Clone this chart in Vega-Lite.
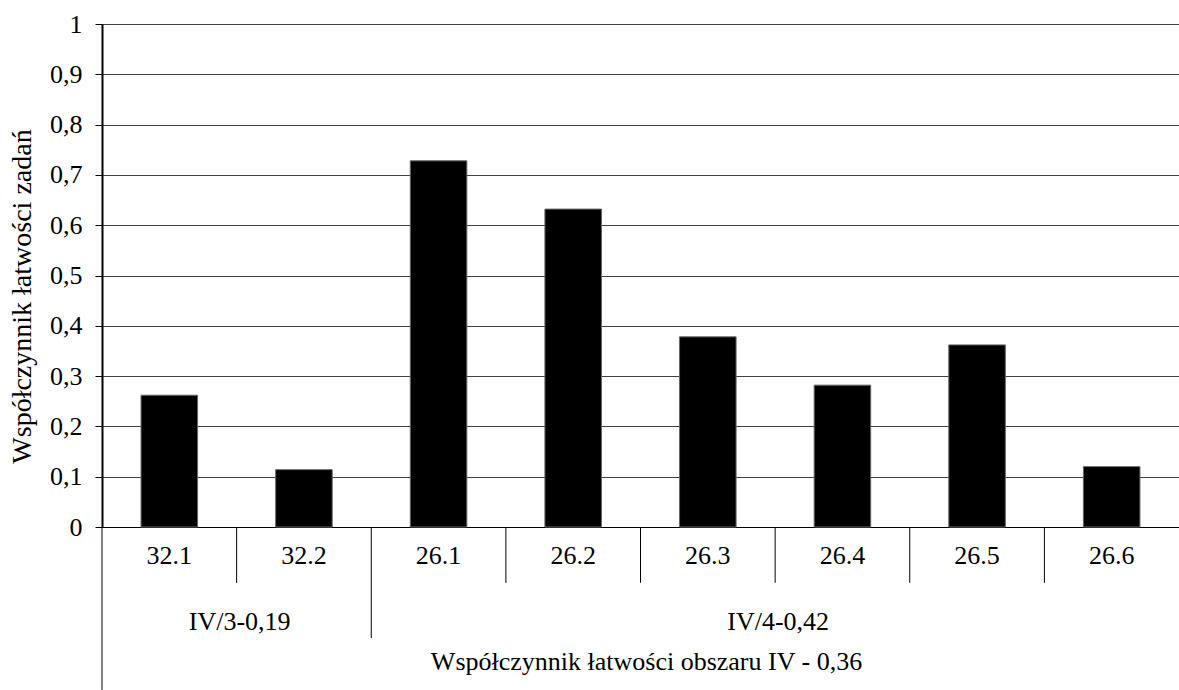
{
  "$schema": "https://vega.github.io/schema/vega-lite/v6.json",
  "width": 1077,
  "height": 503,
  "autosize": {"type": "none"},
  "padding": {"left": 102, "top": 24, "right": 0, "bottom": 163},
  "background": "white",
  "config": {"view": {"stroke": null}, "font": "Times New Roman, Liberation Serif, serif", "axis": {"labelFont": "Times New Roman, Liberation Serif, serif", "titleFont": "Times New Roman, Liberation Serif, serif"}, "text": {"font": "Times New Roman, Liberation Serif, serif"}},
  "datasets": {
    "bars": [
      {"cat": "32.1", "value": 0.262},
      {"cat": "32.2", "value": 0.114},
      {"cat": "26.1", "value": 0.728},
      {"cat": "26.2", "value": 0.632},
      {"cat": "26.3", "value": 0.378},
      {"cat": "26.4", "value": 0.282},
      {"cat": "26.5", "value": 0.362},
      {"cat": "26.6", "value": 0.12}
    ],
    "dividers": [
      {"cat": "32.1", "depth": -0.324},
      {"cat": "32.2", "depth": -0.111},
      {"cat": "26.1", "depth": -0.2207},
      {"cat": "26.2", "depth": -0.111},
      {"cat": "26.3", "depth": -0.111},
      {"cat": "26.4", "depth": -0.111},
      {"cat": "26.5", "depth": -0.111},
      {"cat": "26.6", "depth": -0.111}
    ],
    "groups": [
      {"cat": "32.2", "level": -0.189, "text": "IV/3-0,19"},
      {"cat": "26.4", "level": -0.189, "text": "IV/4-0,42"}
    ],
    "overall": [
      {"cat": "26.3", "level": -0.268, "text": "Współczynnik łatwości obszaru IV - 0,36"}
    ]
  },
  "layer": [
    {
      "data": {"name": "bars"},
      "mark": {"type": "bar", "width": {"band": 0.42}, "color": "black", "stroke": "#666666", "strokeWidth": 1},
      "encoding": {
        "x": {
          "field": "cat",
          "type": "nominal",
          "sort": null,
          "scale": {"domain": ["32.1", "32.2", "26.1", "26.2", "26.3", "26.4", "26.5", "26.6"], "paddingInner": 0, "paddingOuter": 0},
          "axis": {
            "title": null,
            "ticks": false,
            "tickSize": 0,
            "domain": true,
            "domainColor": "black",
            "domainWidth": 1,
            "labelAngle": 0,
            "labelFont": "Times New Roman, Liberation Serif, serif",
            "labelFontSize": 26,
            "labelColor": "black",
            "labelPadding": 28,
            "labelBaseline": "middle",
            "grid": false
          }
        },
        "y": {
          "field": "value",
          "type": "quantitative",
          "scale": {"domain": [0, 1]},
          "axis": {
            "values": [0, 0.1, 0.2, 0.3, 0.4, 0.5, 0.6, 0.7, 0.8, 0.9, 1],
            "labelExpr": "replace(format(datum.value, '.1~f'), '.', ',')",
            "labelFont": "Times New Roman, Liberation Serif, serif",
            "labelFontSize": 26,
            "labelColor": "black",
            "labelPadding": 13,
            "tickSize": 7,
            "tickColor": "black",
            "domainColor": "black",
            "domainWidth": 2,
            "grid": true,
            "gridColor": "#404040",
            "gridWidth": 1,
            "title": "Współczynnik łatwości zadań",
            "titleFont": "Times New Roman, Liberation Serif, serif",
            "titleFontSize": 28,
            "titleFontWeight": "normal",
            "titleColor": "black",
            "titleX": -80,
            "titleY": 272,
            "titleBaseline": "middle",
            "titleAlign": "center",
            "titleAngle": -90
          }
        }
      }
    },
    {
      "data": {"name": "dividers"},
      "mark": {"type": "rule", "color": "black", "strokeWidth": 1},
      "encoding": {
        "x": {"field": "cat", "type": "nominal", "bandPosition": 0},
        "y": {"field": "depth", "type": "quantitative"},
        "y2": {"datum": 0}
      }
    },
    {
      "data": {"name": "groups"},
      "mark": {"type": "text", "font": "Times New Roman, Liberation Serif, serif", "fontSize": 26, "baseline": "middle", "align": "center", "color": "black", "dx": 3},
      "encoding": {
        "x": {"field": "cat", "type": "nominal", "bandPosition": 0},
        "y": {"field": "level", "type": "quantitative"},
        "text": {"field": "text", "type": "nominal"}
      }
    },
    {
      "data": {"name": "overall"},
      "mark": {"type": "text", "font": "Times New Roman, Liberation Serif, serif", "fontSize": 26, "baseline": "middle", "align": "center", "color": "black", "dx": 6},
      "encoding": {
        "x": {"field": "cat", "type": "nominal", "bandPosition": 0},
        "y": {"field": "level", "type": "quantitative"},
        "text": {"field": "text", "type": "nominal"}
      }
    }
  ]
}
